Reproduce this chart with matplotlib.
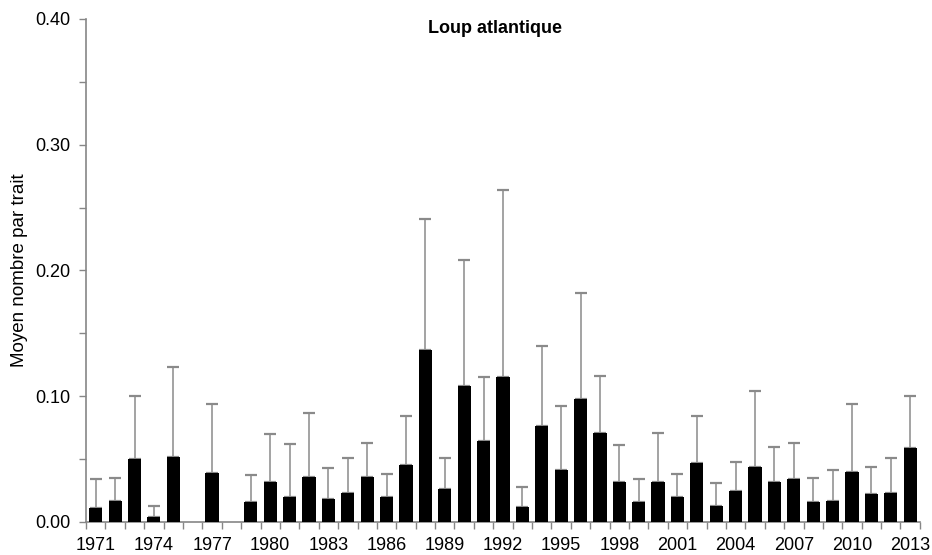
import numpy as np
import matplotlib.pyplot as plt
from matplotlib.ticker import MultipleLocator, FixedLocator

plt.rcParams['font.family'] = ['Liberation Sans', 'DejaVu Sans']

# --- data ---
years = list(range(1971, 2014))
means = [0.011, 0.017, 0.050, 0.004, 0.052, 0.0, 0.039, 0.0, 0.016, 0.032,
         0.020, 0.036, 0.018, 0.023, 0.036, 0.020, 0.045, 0.137, 0.026, 0.108,
         0.064, 0.115, 0.012, 0.076, 0.041, 0.098, 0.071, 0.032, 0.016, 0.032,
         0.020, 0.047, 0.013, 0.025, 0.044, 0.032, 0.034, 0.016, 0.017, 0.040,
         0.022, 0.023, 0.059]
upper = [0.034, 0.035, 0.100, 0.013, 0.123, 0.0, 0.094, 0.0, 0.037, 0.070,
         0.062, 0.087, 0.043, 0.051, 0.063, 0.038, 0.084, 0.241, 0.051, 0.208,
         0.115, 0.264, 0.028, 0.140, 0.092, 0.182, 0.116, 0.061, 0.034, 0.071,
         0.038, 0.084, 0.031, 0.048, 0.104, 0.060, 0.063, 0.035, 0.041, 0.094,
         0.044, 0.051, 0.100]

axis_grey = "#868686"

fig = plt.figure(figsize=(9.32, 5.55), dpi=100)
ax = fig.add_axes([0.0923, 0.0595, 0.8947, 0.9063])

x = np.arange(len(years))
m = np.array(means)
err = np.array(upper) - m
has = m > 0

ax.bar(x[has], m[has], width=0.68, color="black", zorder=3)
_, caps, _ = ax.errorbar(x[has], m[has], yerr=[np.zeros(has.sum()), err[has]],
                         fmt="none", ecolor="#8a8a8a", elinewidth=1.1,
                         capsize=4.5, capthick=1.6, zorder=2)
for c in caps:
    c.set_color("#4a4a4a")

ax.set_xlim(-0.5, len(years) - 0.5)
ax.set_ylim(0, 0.40)

# y axis
ax.yaxis.set_major_locator(MultipleLocator(0.10))
ax.yaxis.set_minor_locator(MultipleLocator(0.05))
ax.set_yticklabels([f"{v:.2f}" for v in ax.get_yticks()])
ax.tick_params(axis="y", which="both", direction="out", length=5,
               width=1, color=axis_grey, labelsize=13, pad=6)

# x axis: ticks at category boundaries, labels every 3 years
ax.xaxis.set_major_locator(FixedLocator(np.arange(-0.5, len(years), 1.0)))
ax.set_xticklabels([])
ax.xaxis.set_minor_locator(FixedLocator(x[::3]))
ax.set_xticklabels([str(y) for y in years[::3]], minor=True)
ax.tick_params(axis="x", which="major", direction="out", length=5,
               width=1, color=axis_grey)
ax.tick_params(axis="x", which="minor", length=0, labelsize=13, pad=11)

for s in ["top", "right"]:
    ax.spines[s].set_visible(False)
for s in ["left", "bottom"]:
    ax.spines[s].set_color(axis_grey)
    ax.spines[s].set_linewidth(1.2)

ax.set_ylabel("Moyen nombre par trait", fontsize=13.5)
ax.yaxis.set_label_coords(-0.07, 0.5)

fig.text(0.5306, 0.9495, "Loup atlantique", ha="center", va="center",
         fontsize=13, fontweight="bold")

plt.savefig("out.png", dpi=100)
plt.close()
